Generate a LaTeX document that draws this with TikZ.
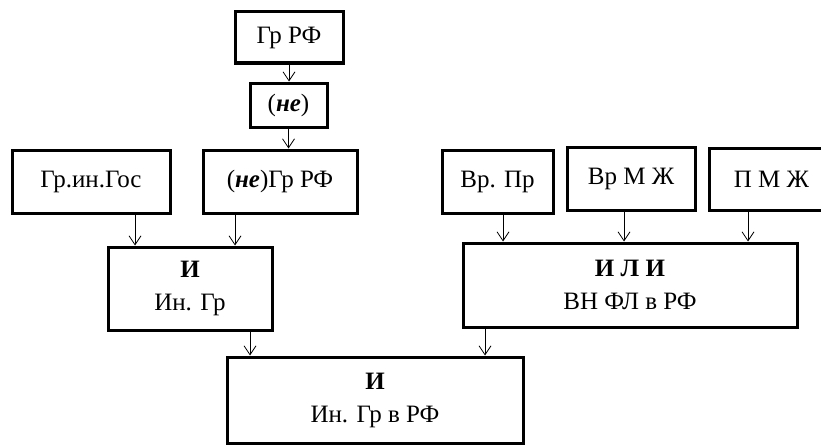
\documentclass[tikz,border=0pt]{standalone}
\usepackage{fontspec}
\setmainfont{Liberation Serif}
\usetikzlibrary{arrows.meta, positioning}

\begin{document}
\begin{tikzpicture}[x=1pt, y=-1pt, >={Straight Barb[length=9pt,width=12pt]}]
    \tikzstyle{b}=[draw, line width=3pt, inner sep=0pt, align=center, font=\fontsize{25}{33}\selectfont]
    \tikzstyle{a}=[->, line width=0.8pt]
    \useasboundingbox (0,0) rectangle (821,444);

    \node[b, minimum width=108pt, minimum height=51pt] (grrf) at (289,37.5) {Гр РФ};
    \node[b, minimum width=77pt, minimum height=44pt] (ne) at (288.5,105) {(\textbf{\textit{не}})};
    \node[b, minimum width=154pt, minimum height=63pt] (negr) at (280,181.5) {(\textbf{\textit{не}})Гр РФ};
    \node[b, minimum width=158pt, minimum height=63pt] (gos) at (91,181.5) {Гр.ин.Гос};
    \node[b, minimum width=164pt, minimum height=83pt] (i1) at (190,288.5) {\textbf{И}\\Ин. Гр};
    \node[b, minimum width=111pt, minimum height=63pt] (vrpr) at (497.5,181.5) {Вр. Пр};
    \node[b, minimum width=128pt, minimum height=63pt] (vrmzh) at (631,178.5) {Вр М Ж};
    \node[b, minimum width=125pt, minimum height=62pt] (pmzh) at (771.5,179) {П М Ж};
    \node[b, minimum width=334pt, minimum height=84pt] (ili) at (630,285) {\textbf{И Л И}\\ВН ФЛ в РФ};
    \node[b, minimum width=296pt, minimum height=86pt] (res) at (375,400) {\textbf{И}\\Ин. Гр в РФ};

    \draw[a] (grrf.south) -- (grrf.south |- ne.north);
    \draw[a] (ne.south) -- (ne.south |- negr.north);
    \draw[a] ([xshift=44pt]gos.south) -- ([xshift=44pt]gos.south |- i1.north);
    \draw[a] ([xshift=-45pt]negr.south) -- ([xshift=-45pt]negr.south |- i1.north);
    \draw[a] ([xshift=5.5pt]vrpr.south) -- ([xshift=5.5pt]vrpr.south |- ili.north);
    \draw[a] ([xshift=-7pt]vrmzh.south) -- ([xshift=-7pt]vrmzh.south |- ili.north);
    \draw[a] ([xshift=-23.5pt]pmzh.south) -- ([xshift=-23.5pt]pmzh.south |- ili.north);
    \draw[a] ([xshift=60pt]i1.south) -- ([xshift=60pt]i1.south |- res.north);
    \draw[a] ([xshift=-145pt]ili.south) -- ([xshift=-145pt]ili.south |- res.north);
\end{tikzpicture}
\end{document}
